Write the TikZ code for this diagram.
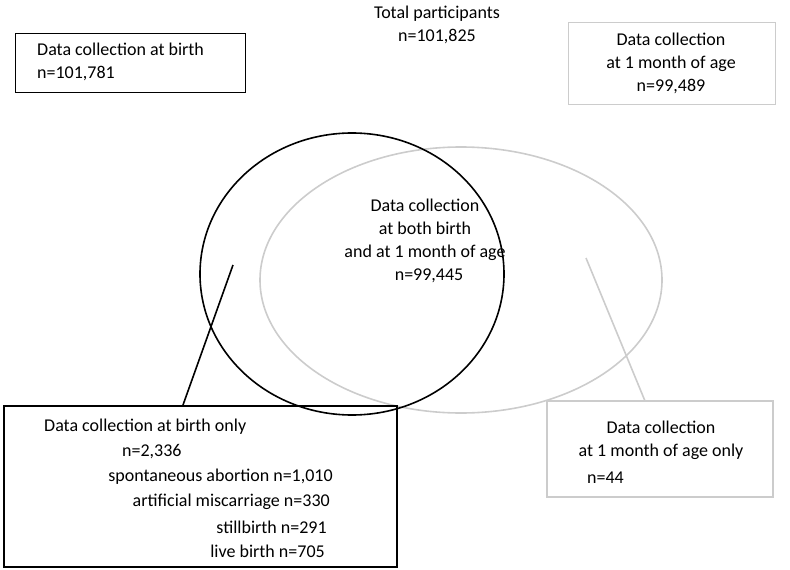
\documentclass[tikz,border=0pt]{standalone}
\usepackage{fontspec}
\setmainfont{Carlito}
\begin{document}
\begin{tikzpicture}[x=1pt,y=-1pt,font=\fontsize{18}{23}\selectfont,
  blk/.style={draw=black,line width=1.6pt},
  gry/.style={draw=black!20,line width=1.6pt},
  lbl/.style={align=center,inner sep=0pt},
  ln/.style={inner sep=0pt}]
\useasboundingbox (0,0) rectangle (790,570);
\draw[gry] (461,280) ellipse [x radius=201,y radius=133];
\draw[blk] (352,274) ellipse [x radius=152,y radius=141];
\node[lbl] (tot) at (437,25) {Total participants\\n=101,825};
\node[lbl] (both) at (425,241) {Data collection\\at both birth\\and at 1 month of age\\\ \ n=99,445};
\draw[line width=1pt] (15,33) rectangle (245,92);
\node[lbl,align=left,anchor=west] (b) at (37,62) {Data collection at birth\\n=101,781};
\draw[black!20,line width=1pt] (568,22) rectangle (775,104);
\node[lbl] (m) at (671,63) {Data collection\\at 1 month of age\\n=99,489};
\draw[line width=2pt] (4,406) rectangle (397,567);
\node[ln,anchor=west] (bo1) at (44,427) {Data collection at birth only};
\node[ln,anchor=west] (bo2) at (122,452) {n=2,336};
\node[ln,anchor=east] (bo3) at (333,477) {spontaneous abortion n=1,010};
\node[ln,anchor=east] (bo4) at (330,502) {artificial miscarriage n=330};
\node[ln,anchor=east] (bo5) at (327,527) {stillbirth n=291};
\node[ln,anchor=east] (bo6) at (325,551) {live birth n=705};
\draw[black!20,line width=1.6pt] (547,401) rectangle (773,497);
\node[ln] (mo1) at (661,427) {Data collection};
\node[ln] (mo2) at (661,452) {at 1 month of age only};
\node[ln,anchor=west] (mo3) at (587,478) {n=44};
\coordinate (l1) at (233,265); \coordinate (l2) at (183,405);
\coordinate (r1) at (586,258); \coordinate (r2) at (645,401);
\draw[line width=1.6pt] (l1) -- (l2);
\draw[black!20,line width=1.6pt] (r1) -- (r2);
\end{tikzpicture}
\end{document}
